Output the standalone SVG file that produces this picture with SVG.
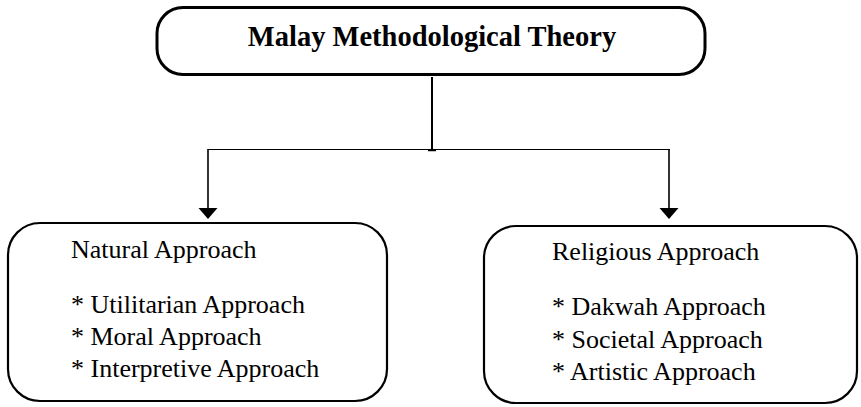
<svg xmlns="http://www.w3.org/2000/svg" width="861" height="407" viewBox="0 0 861 407">
<style>
.box{fill:#fff;stroke:#000;stroke-width:2.2}
.title{font-family:"Liberation Serif","Times New Roman",serif;font-weight:bold;font-size:28.5px;fill:#000}
.t{font-family:"Liberation Serif","Times New Roman",serif;font-size:26px;fill:#000}
.ln{stroke:#000;fill:none}
</style>
<g id="connectors">
<line class="ln" x1="432" y1="77" x2="432" y2="150" stroke-width="2"/>
<line class="ln" x1="208" y1="149.5" x2="670" y2="149.5" stroke-width="1.2"/>
<line class="ln" x1="428" y1="150.5" x2="436" y2="150.5" stroke-width="1.5"/>
<line class="ln" x1="208" y1="149" x2="208" y2="208" stroke-width="1.6"/>
<path d="M198.5,208 L217.5,208 L208,219 Z" fill="#000"/>
<line class="ln" x1="669" y1="149" x2="669" y2="208" stroke-width="1.6"/>
<path d="M659.5,208 L678.5,208 L669,219 Z" fill="#000"/>
</g>
<g id="node-top">
<rect x="157" y="7.5" width="548" height="67" rx="26" ry="26" class="box" style="stroke-width:3"/>
<text class="title" x="432" y="46" text-anchor="middle">Malay Methodological Theory</text>
</g>
<g id="node-natural">
<rect x="8" y="223" width="379" height="178" rx="32" ry="32" class="box"/>
<text class="t" x="71" y="258">Natural Approach</text>
<text class="t" x="71" y="313">* Utilitarian Approach</text>
<text class="t" x="71" y="345">* Moral Approach</text>
<text class="t" x="71" y="377">* Interpretive Approach</text>
</g>
<g id="node-religious">
<rect x="484" y="226" width="373" height="177" rx="32" ry="32" class="box"/>
<text class="t" x="552" y="260">Religious Approach</text>
<text class="t" x="552" y="315">* Dakwah Approach</text>
<text class="t" x="552" y="347.5">* Societal Approach</text>
<text class="t" x="552" y="380">* Artistic Approach</text>
</g>
</svg>
